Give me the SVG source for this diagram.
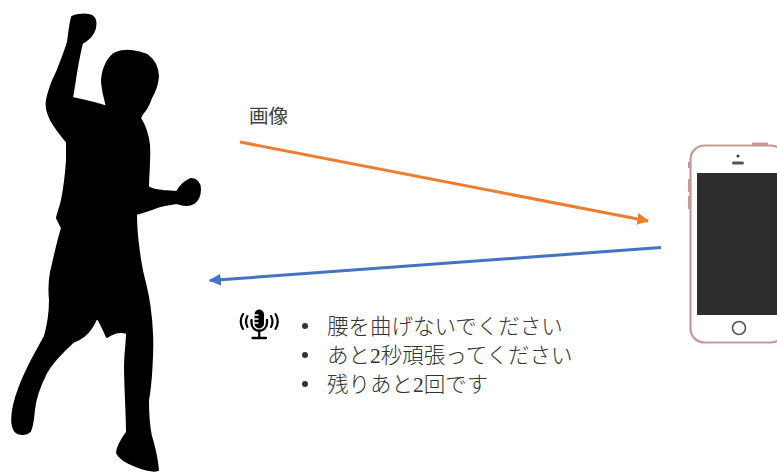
<svg xmlns="http://www.w3.org/2000/svg" width="777" height="474" viewBox="0 0 777 474">
  <defs>
    <style>
      .label { font-family: "Noto Sans CJK JP", "Liberation Sans", sans-serif; fill: #404040; }
      .item { font-family: "Liberation Serif", "Noto Sans CJK JP", serif; font-size: 21.5px; font-weight: 300; fill: #333333; }
      .bullet { fill: #333333; }
      .conn { fill: none; stroke-width: 3; }
    </style>
    <marker id="headOrange" viewBox="0 0 10 10" refX="9" refY="5" markerWidth="4" markerHeight="4" orient="auto" markerUnits="strokeWidth">
      <path d="M0,0 L10,5 L0,10 Z" fill="#ED7D31"/>
    </marker>
    <marker id="headBlue" viewBox="0 0 10 10" refX="9" refY="5" markerWidth="4" markerHeight="4" orient="auto" markerUnits="strokeWidth">
      <path d="M0,0 L10,5 L0,10 Z" fill="#4472C4"/>
    </marker>
  </defs>

  <rect width="777" height="474" fill="#ffffff"/>

  <!-- person silhouette -->
  <g id="person">
    <path fill="#000" stroke="#000" stroke-width="2" stroke-linejoin="round"
      d="M72,17 C76,14 88,14 92,16 C97,19 96,28 93,33 C90,38 86,41 82,43
         C79,55 76,72 74,86 L72,98 C82,100 96,103 107,107
         C105,98 102,90 102,80 C103,68 108,57 116,53 C125,49 138,51 147,55
         C154,60 158,68 158,77 C157,86 154,93 151,98 C149,104 146,110 142,114
         L140,118 C145,126 148,135 149,145 C150,160 148,175 148,187
         C153,190 158,190 163,191 L177,192 C180,186 186,181 191,179
         C196,179 200,183 200,189 C200,195 198,200 194,203 C189,206 182,205 177,203
         C170,204 163,205 157,207 C150,210 143,212 136,214
         C136,235 140,265 145,283 C148,295 151,310 152,333
         C153,350 151,385 148,400 C148,415 149,427 151,436
         C154,446 157,458 158,470 C152,472 144,469 136,466
         C128,463 120,459 117,453 C117,447 122,439 127,432
         C127,415 125,385 125,367 C125,355 127,342 127,333
         C121,331 114,332 107,337 C104,330 100,322 97,317
         C94,324 89,332 84,336 C80,339 76,341 73,342
         C62,352 52,362 46,373 C40,385 35,398 34,410
         C33,418 33,425 30,431 C26,435 19,435 15,431
         C11,425 12,414 14,405 C17,393 22,380 28,368
         C33,357 40,346 45,336 C48,325 50,312 50,300
         C49,290 49,283 51,272 C54,260 58,240 62,228
         L57,218 C58,212 61,206 62,200 C64,190 66,175 67,160
         L67,142 C61,135 55,127 51,120 C47,112 46,105 47,100
         C49,90 53,80 57,72 C61,62 65,52 68,42 C69,34 70,25 72,17 Z"/>
  </g>

  <!-- smartphone -->
  <g id="phone">
    <rect x="752" y="142.5" width="16" height="3.5" rx="1" fill="#c39a96"/>
    <rect x="688" y="162" width="2.5" height="6" fill="#c39a96"/>
    <rect x="688" y="179" width="2.5" height="13" fill="#c39a96"/>
    <rect x="688" y="196" width="2.5" height="13" fill="#c39a96"/>
    <rect x="690.5" y="145.5" width="94" height="197" rx="14" fill="#ffffff" stroke="#c39a96" stroke-width="2.2"/>
    <rect x="697" y="173" width="80" height="142" fill="#2d2d2d"/>
    <circle cx="738" cy="156" r="1.6" fill="#444"/>
    <rect x="732" y="161.5" width="12" height="3" rx="1.5" fill="#555"/>
    <circle cx="739" cy="328" r="6.5" fill="none" stroke="#555" stroke-width="1.6"/>
  </g>

  <!-- arrows between person and phone -->
  <g id="connectors">
    <line class="conn" x1="240" y1="142" x2="648" y2="221" stroke="#ED7D31" marker-end="url(#headOrange)"/>
    <line class="conn" x1="661" y1="247.5" x2="210" y2="280.5" stroke="#4472C4" marker-end="url(#headBlue)"/>
  </g>

  <g id="image-label">
    <text class="label" x="249" y="123" font-size="19.5">画像</text>
  </g>

  <!-- voice feedback -->
  <g id="voice">
    <g id="mic-icon" fill="none" stroke="#000" stroke-linecap="round">
      <rect x="254.5" y="309.5" width="9.5" height="19" rx="4.75" fill="#000" stroke="none"/>
      <path d="M254.5,315 h3.5 M254.5,319 h3.5 M254.5,323 h3.5" stroke="#fff" stroke-width="1.3"/>
      <path d="M251.5,320 v3 a7.75,7.75 0 0 0 15.5,0 v-3" stroke-width="2.3"/>
      <path d="M259.25,331 v6.5 M252.5,338 h13.5" stroke-width="2.3"/>
      <path d="M247.5,316 q-3,5.5 0,11" stroke-width="2.1"/>
      <path d="M243,314 q-4.5,7.5 0,15" stroke-width="2.1"/>
      <path d="M271,316 q3,5.5 0,11" stroke-width="2.1"/>
      <path d="M275.5,314 q4.5,7.5 0,15" stroke-width="2.1"/>
    </g>
    <circle class="bullet" cx="305" cy="326" r="3"/>
    <circle class="bullet" cx="305" cy="355" r="3"/>
    <circle class="bullet" cx="305" cy="384" r="3"/>
    <text class="item" x="327" y="334">腰を曲げないでください</text>
    <text class="item" x="327" y="363">あと2秒頑張ってください</text>
    <text class="item" x="327" y="392">残りあと2回です</text>
  </g>
</svg>
